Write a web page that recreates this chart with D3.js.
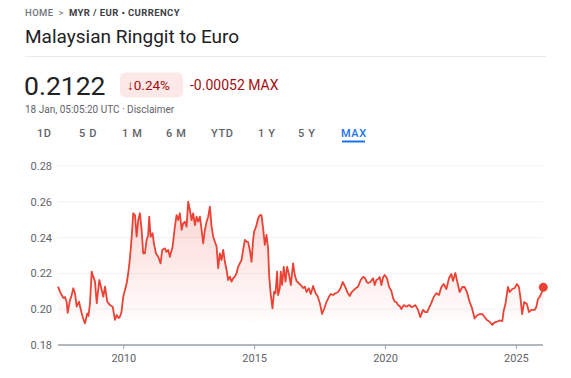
<!DOCTYPE html>
<html>
<head>
<meta charset="utf-8">
<script src="https://cdn.jsdelivr.net/npm/d3@7"></script>
<style>
  body { margin: 0; background: #fff; font-family: Roboto, "Noto Sans", sans-serif; }
  svg text { font-family: Roboto, "Noto Sans", sans-serif; }
</style>
</head>
<body>
<div id="chart"></div>
<script>
// decimal years
const dates = [
  2007.508, 2007.584, 2007.649, 2007.710, 2007.775, 2007.840, 2007.878, 2007.966, 2008.023, 2008.092,
  2008.156, 2008.221, 2008.309, 2008.412, 2008.462, 2008.538, 2008.626, 2008.672, 2008.729, 2008.794,
  2008.844, 2008.920, 2008.985, 2009.084, 2009.176, 2009.237, 2009.302, 2009.389, 2009.492, 2009.595,
  2009.683, 2009.748, 2009.817, 2009.874, 2009.931, 2010.000, 2010.065, 2010.130, 2010.179, 2010.229,
  2010.294, 2010.340, 2010.382, 2010.447, 2010.511, 2010.573, 2010.637, 2010.702, 2010.763, 2010.828,
  2010.893, 2010.954, 2010.992, 2011.046, 2011.122, 2011.172, 2011.248, 2011.336, 2011.427, 2011.489,
  2011.592, 2011.649, 2011.718, 2011.782, 2011.885, 2011.973, 2012.038, 2012.099, 2012.164, 2012.229,
  2012.290, 2012.355, 2012.420, 2012.481, 2012.546, 2012.611, 2012.672, 2012.737, 2012.802, 2012.863,
  2012.927, 2012.992, 2013.053, 2013.118, 2013.183, 2013.244, 2013.309, 2013.374, 2013.435, 2013.500,
  2013.565, 2013.626, 2013.691, 2013.756, 2013.817, 2013.882, 2013.947, 2014.008, 2014.073, 2014.137,
  2014.198, 2014.263, 2014.328, 2014.389, 2014.454, 2014.519, 2014.580, 2014.645, 2014.710, 2014.771,
  2014.836, 2014.901, 2014.962, 2015.000, 2015.092, 2015.153, 2015.218, 2015.282, 2015.344, 2015.408,
  2015.473, 2015.534, 2015.573, 2015.637, 2015.702, 2015.763, 2015.817, 2015.878, 2015.916, 2015.981,
  2016.019, 2016.069, 2016.134, 2016.198, 2016.260, 2016.336, 2016.401, 2016.489, 2016.553, 2016.618,
  2016.706, 2016.782, 2016.870, 2016.935, 2017.000, 2017.088, 2017.164, 2017.252, 2017.344, 2017.420,
  2017.508, 2017.595, 2017.672, 2017.763, 2017.851, 2017.927, 2018.015, 2018.107, 2018.206, 2018.298,
  2018.385, 2018.481, 2018.576, 2018.653, 2018.729, 2018.805, 2018.893, 2018.969, 2019.073, 2019.160,
  2019.225, 2019.302, 2019.359, 2019.443, 2019.542, 2019.607, 2019.672, 2019.740, 2019.798, 2019.863,
  2019.931, 2019.989, 2020.076, 2020.153, 2020.244, 2020.305, 2020.370, 2020.435, 2020.496, 2020.561,
  2020.626, 2020.714, 2020.817, 2020.885, 2020.943, 2021.008, 2021.069, 2021.160, 2021.260, 2021.344,
  2021.450, 2021.534, 2021.611, 2021.679, 2021.771, 2021.859, 2021.962, 2022.061, 2022.153, 2022.240,
  2022.344, 2022.443, 2022.534, 2022.595, 2022.687, 2022.763, 2022.851, 2022.954, 2023.042, 2023.130,
  2023.233, 2023.321, 2023.424, 2023.511, 2023.615, 2023.718, 2023.805, 2023.893, 2023.996, 2024.099,
  2024.187, 2024.275, 2024.378, 2024.481, 2024.531, 2024.607, 2024.695, 2024.760, 2024.863, 2024.950,
  2025.038, 2025.115, 2025.168, 2025.237, 2025.313, 2025.420, 2025.496, 2025.588, 2025.714, 2025.779,
  2025.840, 2025.905, 2025.992, 2026.046
];

// MYR -> EUR rate
const rates = [
  0.2126, 0.2098, 0.2079, 0.2063, 0.2068, 0.2040, 0.1979, 0.2051, 0.2074, 0.2117,
  0.2089, 0.2014, 0.2042, 0.1977, 0.1951, 0.1921, 0.1977, 0.1962, 0.2033, 0.2210,
  0.2186, 0.2154, 0.2033, 0.2163, 0.2107, 0.2070, 0.2126, 0.2042, 0.2023, 0.2014,
  0.1940, 0.1968, 0.1951, 0.1958, 0.1984, 0.2070, 0.2107, 0.2145, 0.2191, 0.2247,
  0.2349, 0.2443, 0.2536, 0.2526, 0.2405, 0.2498, 0.2536, 0.2443, 0.2312, 0.2312,
  0.2387, 0.2415, 0.2517, 0.2405, 0.2424, 0.2368, 0.2312, 0.2293, 0.2256, 0.2331,
  0.2340, 0.2320, 0.2331, 0.2293, 0.2349, 0.2461, 0.2526, 0.2498, 0.2536, 0.2443,
  0.2480, 0.2489, 0.2461, 0.2601, 0.2554, 0.2498, 0.2536, 0.2470, 0.2517, 0.2489,
  0.2517, 0.2443, 0.2368, 0.2443, 0.2489, 0.2517, 0.2573, 0.2461, 0.2405, 0.2377,
  0.2349, 0.2229, 0.2312, 0.2275, 0.2331, 0.2265, 0.2219, 0.2163, 0.2182, 0.2154,
  0.2173, 0.2182, 0.2201, 0.2237, 0.2256, 0.2275, 0.2331, 0.2387, 0.2377, 0.2375,
  0.2331, 0.2265, 0.2387, 0.2433, 0.2470, 0.2508, 0.2526, 0.2526, 0.2452, 0.2359,
  0.2415, 0.2340, 0.2191, 0.2079, 0.2005, 0.2098, 0.2089, 0.2210, 0.2079, 0.2117,
  0.2210, 0.2135, 0.2237, 0.2154, 0.2237, 0.2191, 0.2135, 0.2256, 0.2191, 0.2158,
  0.2145, 0.2135, 0.2118, 0.2126, 0.2096, 0.2117, 0.2085, 0.2130, 0.2091, 0.2074,
  0.2035, 0.1973, 0.2001, 0.2040, 0.2068, 0.2085, 0.2079, 0.2089, 0.2096, 0.2117,
  0.2152, 0.2124, 0.2091, 0.2074, 0.2096, 0.2107, 0.2118, 0.2126, 0.2163, 0.2180,
  0.2177, 0.2152, 0.2146, 0.2152, 0.2173, 0.2135, 0.2163, 0.2169, 0.2180, 0.2135,
  0.2180, 0.2191, 0.2173, 0.2126, 0.2102, 0.2063, 0.2042, 0.2040, 0.2023, 0.2018,
  0.2001, 0.2023, 0.2014, 0.2021, 0.2023, 0.2012, 0.2014, 0.2023, 0.1996, 0.1956,
  0.1996, 0.1984, 0.1984, 0.2007, 0.2035, 0.2068, 0.2089, 0.2079, 0.2124, 0.2141,
  0.2113, 0.2173, 0.2197, 0.2158, 0.2202, 0.2152, 0.2096, 0.2124, 0.2124, 0.2096,
  0.2040, 0.2007, 0.1948, 0.1965, 0.1973, 0.1973, 0.1956, 0.1940, 0.1930, 0.1912,
  0.1926, 0.1930, 0.1937, 0.1934, 0.1990, 0.2035, 0.2124, 0.2096, 0.2113, 0.2118,
  0.2141, 0.2124, 0.2070, 0.1973, 0.2040, 0.2029, 0.1984, 0.1996, 0.1996, 0.2012,
  0.2057, 0.2068, 0.2096, 0.2122
];

const yTicks = [0.18, 0.20, 0.22, 0.24, 0.26, 0.28];
const xTickYears = [2010, 2015, 2020, 2025];
const ranges = ["1D", "5 D", "1 M", "6 M", "YTD", "1 Y", "5 Y", "MAX"];
const rangeX = [37, 79, 122, 166, 211, 258, 298, 341];

const w = 571;
const h = 378;
const red = "#ea4335";
const grey = "#5f6368";

function yearToDate(y) {
    const yr = Math.floor(y);
    const start = new Date(yr, 0, 1);
    const end = new Date(yr + 1, 0, 1);
    return new Date(+start + (y - yr) * (end - start));
}

const data = dates.map(function(d, i) {
    return {date: yearToDate(d), value: rates[i]};
});

const svg = d3.select("#chart").append("svg")
    .attr("width", w)
    .attr("height", h);

// header
const crumb = svg.append("text")
    .attr("x", 25)
    .attr("y", 16)
    .style("font-size", "9.5px")
    .style("letter-spacing", "0.4px");
crumb.append("tspan").attr("fill", "#70757a").attr("font-weight", 500).text("HOME");
crumb.append("tspan").attr("fill", "#70757a").attr("dx", 5).text(">");
crumb.append("tspan").attr("fill", "#3c4043").attr("font-weight", 700).attr("dx", 5).text("MYR / EUR • CURRENCY");

svg.append("text")
    .attr("x", 25)
    .attr("y", 43)
    .attr("fill", "#202124")
    .style("font-size", "19px")
    .text("Malaysian Ringgit to Euro");

svg.append("line")
    .attr("x1", 25).attr("x2", 546)
    .attr("y1", 56.5).attr("y2", 56.5)
    .attr("stroke", "#e8eaed");

svg.append("text")
    .attr("x", 24)
    .attr("y", 94.5)
    .attr("fill", "#202124")
    .style("font-size", "26.5px")
    .text("0.2122");

svg.append("rect")
    .attr("x", 120).attr("y", 72.5)
    .attr("width", 63).attr("height", 25)
    .attr("rx", 6)
    .attr("fill", "#fce8e6");

svg.append("text")
    .attr("x", 127)
    .attr("y", 90)
    .attr("fill", "#a50e0e")
    .style("font-size", "13.5px")
    .text("↓0.24%");

svg.append("text")
    .attr("x", 190)
    .attr("y", 90)
    .attr("fill", "#a50e0e")
    .style("font-size", "14px")
    .text("-0.00052 MAX");

svg.append("text")
    .attr("x", 25)
    .attr("y", 112.5)
    .attr("fill", grey)
    .style("font-size", "10px")
    .text("18 Jan, 05:05:20 UTC · Disclaimer");

// range tabs
svg.append("g")
    .selectAll("text")
    .data(ranges)
    .enter()
    .append("text")
    .attr("x", function(d, i) { return rangeX[i]; })
    .attr("y", 137)
    .attr("fill", function(d) { return d == "MAX" ? "#1a73e8" : grey; })
    .style("font-size", "11px")
    .style("font-weight", 500)
    .style("letter-spacing", "0.6px")
    .text(function(d) { return d; });

svg.append("rect")
    .attr("x", 342).attr("y", 140.5)
    .attr("width", 23).attr("height", 2)
    .attr("fill", "#1a73e8");

// scales
const xScale = d3.scaleTime()
    .domain(d3.extent(data, function(d) { return d.date; }))
    .range([58, 543.3]);

const yScale = d3.scaleLinear()
    .domain([0.18, 0.28])
    .range([345, 166]);

// grid
svg.append("g")
    .selectAll("line")
    .data(yTicks.slice(1))
    .enter()
    .append("line")
    .attr("x1", 58).attr("x2", 543)
    .attr("y1", function(d) { return yScale(d); })
    .attr("y2", function(d) { return yScale(d); })
    .attr("stroke", "#f1f3f4")
    .attr("stroke-width", 1);

svg.append("g")
    .selectAll("text")
    .data(yTicks)
    .enter()
    .append("text")
    .attr("x", 52)
    .attr("y", function(d) { return yScale(d) + 4; })
    .attr("text-anchor", "end")
    .attr("fill", grey)
    .style("font-size", "11px")
    .text(function(d) { return d3.format(".2f")(d); });

// area + line
const defs = svg.append("defs");
const grad = defs.append("linearGradient")
    .attr("id", "fade")
    .attr("gradientUnits", "userSpaceOnUse")
    .attr("x1", 0).attr("x2", 0)
    .attr("y1", yScale(0.26)).attr("y2", yScale(0.19));
grad.append("stop").attr("offset", 0).attr("stop-color", red).attr("stop-opacity", 0.22);
grad.append("stop").attr("offset", 1).attr("stop-color", red).attr("stop-opacity", 0);

svg.append("path")
    .datum(data)
    .attr("fill", "url(#fade)")
    .attr("d", d3.area()
        .x(function(d) { return xScale(d.date); })
        .y0(yScale(0.18))
        .y1(function(d) { return yScale(d.value); }));

svg.append("path")
    .datum(data)
    .attr("fill", "none")
    .attr("stroke", red)
    .attr("stroke-width", 1.8)
    .attr("stroke-linejoin", "round")
    .attr("d", d3.line()
        .x(function(d) { return xScale(d.date); })
        .y(function(d) { return yScale(d.value); }));

// x axis
const xAxis = svg.append("g")
    .attr("transform", "translate(0," + yScale(0.18) + ")")
    .call(d3.axisBottom(xScale)
        .tickValues(xTickYears.map(function(y) { return new Date(y, 0, 1); }))
        .tickFormat(d3.timeFormat("%Y"))
        .tickSize(4)
        .tickPadding(5));
xAxis.select(".domain")
    .attr("d", "M58,0H543")
    .attr("stroke", "#9aa0a6")
    .attr("stroke-width", 1.3);
xAxis.selectAll(".tick line").attr("stroke", "#9aa0a6");
xAxis.selectAll(".tick text")
    .attr("fill", grey)
    .style("font-size", "11px")
    .style("font-family", "Roboto, sans-serif");

// last point
const last = data[data.length - 1];
svg.append("circle")
    .attr("cx", xScale(last.date))
    .attr("cy", yScale(last.value))
    .attr("r", 4.5)
    .attr("fill", red);
</script>
</body>
</html>
